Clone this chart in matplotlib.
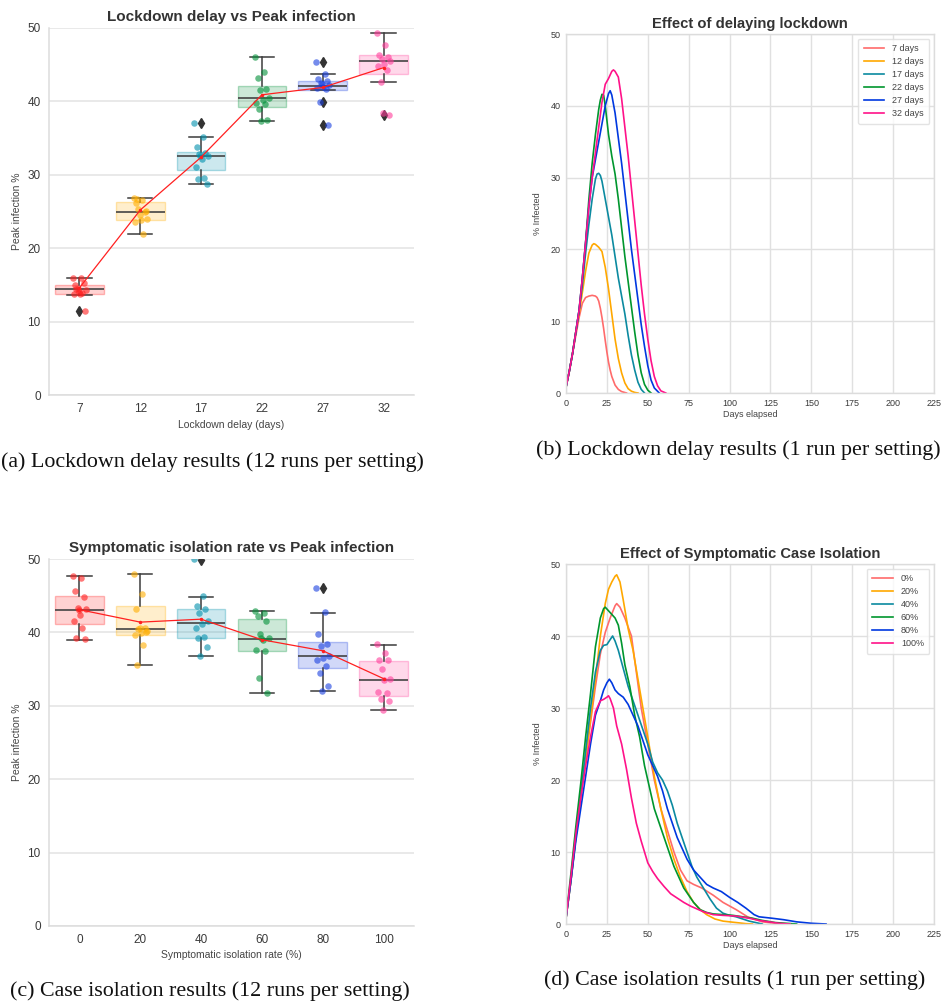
import matplotlib
matplotlib.use("Agg")
import matplotlib.pyplot as plt
import numpy as np

W, H = 943, 1007
plt.rcParams['font.family'] = ['Liberation Sans', 'DejaVu Sans']

BOX_COLORS = ['#ff1f1f', '#ffae00', '#0090ad', '#009038', '#1a40e0', '#ff3d9a']
LINE_COLORS = ['#ff6b6b', '#ffa800', '#0b8aa0', '#00962e', '#0038e0', '#ff1289']

# ---- (a) lockdown delay, 12 runs per setting ----
delay_labels = ['7', '12', '17', '22', '27', '32']
delay_points = [
    [16.0, 16.0, 15.0, 15.3, 14.5, 14.3, 13.8, 13.7, 13.9, 14.4, 11.5, 14.0],
    [26.9, 26.6, 26.2, 25.0, 25.3, 24.0, 23.8, 23.6, 22.0, 26.7, 25.1, 24.5],
    [37.1, 35.2, 33.8, 33.0, 32.8, 32.5, 32.2, 31.1, 29.6, 29.4, 28.8, 32.6],
    [46.0, 44.0, 43.2, 41.7, 41.5, 40.5, 40.2, 39.8, 39.6, 39.0, 37.4, 37.3],
    [45.3, 43.8, 43.0, 42.8, 42.5, 42.2, 41.9, 41.8, 41.7, 39.9, 36.8, 42.4],
    [49.3, 47.7, 46.3, 46.1, 45.8, 45.5, 45.1, 44.8, 44.3, 42.6, 38.2, 38.4],
]
delay_q1 = [13.8, 23.9, 30.6, 39.3, 41.6, 43.8]
delay_med = [14.5, 25.0, 32.6, 40.5, 42.1, 45.5]
delay_q3 = [15.0, 26.3, 33.1, 42.1, 42.8, 46.3]
delay_wlo = [13.6, 22.0, 28.8, 37.3, 41.6, 42.6]
delay_whi = [16.0, 26.9, 35.2, 46.0, 43.7, 49.3]
delay_fliers = [[11.4], [], [37.1], [], [45.3, 39.9, 36.8], [38.2]]
delay_mean = [14.6, 25.2, 32.4, 40.9, 41.9, 44.6]

# ---- (c) symptomatic isolation, 12 runs per setting ----
iso_labels = ['0', '20', '40', '60', '80', '100']
iso_points = [
    [47.7, 47.4, 45.7, 44.8, 43.3, 43.2, 42.4, 41.6, 40.6, 39.3, 39.1, 43.1],
    [48.0, 45.2, 43.2, 40.6, 40.5, 40.2, 39.9, 39.6, 38.3, 35.6, 40.0, 40.6],
    [50.0, 44.9, 43.6, 43.2, 42.6, 41.5, 41.2, 40.6, 39.4, 39.2, 38.0, 36.8],
    [42.9, 42.6, 42.3, 41.6, 39.8, 39.2, 39.0, 37.6, 37.5, 33.8, 31.8, 39.3],
    [46.1, 42.8, 39.8, 38.4, 38.2, 36.8, 36.5, 36.2, 35.4, 34.5, 32.7, 32.0],
    [38.4, 37.2, 36.3, 36.2, 35.0, 33.6, 33.5, 31.9, 31.7, 30.9, 30.7, 29.4],
]
iso_q1 = [41.2, 39.6, 39.3, 37.5, 35.1, 31.4]
iso_med = [43.0, 40.5, 41.3, 39.1, 36.8, 33.5]
iso_q3 = [45.0, 43.6, 43.2, 41.8, 38.7, 36.1]
iso_wlo = [39.0, 35.6, 36.8, 31.8, 32.0, 29.4]
iso_whi = [47.7, 48.0, 44.8, 42.9, 42.7, 38.3]
iso_fliers = [[], [], [49.8], [], [46.0], []]
iso_mean = [43.1, 41.4, 41.8, 39.0, 37.5, 33.7]

# ---- (b) delaying lockdown, one run each ----
lock_names = ['7 days', '12 days', '17 days', '22 days', '27 days', '32 days']
lock_days = [
    [0, 2, 4, 6, 8, 10, 12, 14, 16, 18, 19, 20, 21, 22, 23, 24, 25, 26, 27, 28, 30, 32, 34, 37],
    [0, 2, 4, 6, 8, 10, 12, 14, 16, 17, 18, 20, 22, 24, 26, 28, 30, 32, 34, 36, 38, 40, 42, 44],
    [0, 2, 4, 6, 8, 10, 12, 14, 16, 18, 19, 20, 21, 22, 24, 26, 28, 30, 32, 34, 36, 38, 40, 42, 44, 46, 48],
    [0, 2, 4, 6, 8, 10, 12, 14, 16, 18, 20, 21, 22, 23, 24, 26, 28, 30, 32, 34, 36, 38, 40, 42, 44, 46, 48, 50, 52],
    [0, 2, 4, 6, 8, 10, 12, 14, 16, 18, 20, 22, 24, 26, 27, 28, 30, 32, 34, 36, 38, 40, 42, 44, 46, 48, 50, 52, 54, 57],
    [0, 2, 4, 6, 8, 10, 12, 14, 16, 18, 20, 22, 24, 26, 28, 29, 30, 32, 34, 36, 38, 40, 42, 44, 46, 48, 50, 52, 54, 56, 58, 61],
]
lock_inf = [
    [0.8, 3, 5.5, 8, 10.5, 12.5, 13.3, 13.5, 13.6, 13.5, 13.3, 12.8, 11.8, 10.5, 9, 7.3, 5.7, 4.3, 3.2, 2.3, 1.1, 0.5, 0.2, 0],
    [0.8, 3, 5.5, 8.5, 11, 14, 17, 19.5, 20.6, 20.8, 20.7, 20.3, 19.7, 17.5, 14.5, 11, 7.5, 4.8, 2.8, 1.4, 0.6, 0.25, 0.08, 0],
    [0.8, 3, 5.5, 8.5, 11.5, 15, 19.5, 23.5, 27, 29.8, 30.5, 30.6, 30.3, 29.5, 27, 24.5, 22, 19, 16, 13.5, 11, 8, 5.3, 3.2, 1.5, 0.5, 0],
    [0.8, 3, 5.5, 8.5, 11.5, 16, 21, 27, 32, 36, 39.5, 40.8, 41.6, 41.5, 40, 36, 33, 30.5, 27, 23, 19, 15.5, 12, 8.5, 5.3, 2.8, 1.2, 0.4, 0],
    [0.8, 3, 5.5, 8.5, 11.5, 16, 21, 26, 30, 32.5, 35, 37.5, 40, 41.7, 42.1, 41.5, 39, 35.5, 32, 28, 24, 20, 16.5, 13, 9.5, 6.5, 3.8, 1.8, 0.7, 0],
    [0.8, 3, 5.5, 8.5, 11.5, 16, 21, 26, 30, 33.5, 37, 40.5, 43, 43.8, 44.8, 45, 44.8, 44, 41, 37, 33, 28.5, 24, 19.5, 15, 11, 7.5, 4.5, 2.3, 1, 0.3, 0],
]

# ---- (d) symptomatic case isolation, one run each ----
iso_names = ['0%', '20%', '40%', '60%', '80%', '100%']
isol_days = [
    [0, 3, 6, 9, 12, 15, 18, 21, 24, 27, 30, 31, 33, 36, 40, 43, 46, 50, 54, 58, 62, 66, 70, 74, 78, 83, 90, 96, 104, 111, 120, 128, 135],
    [0, 3, 6, 9, 12, 15, 18, 21, 24, 26, 28, 30, 31, 33, 35, 38, 41, 44, 47, 50, 54, 58, 62, 66, 70, 74, 78, 82, 86, 91, 96, 100, 104, 110, 114],
    [0, 3, 6, 9, 12, 15, 18, 21, 23, 25, 27, 28.5, 30, 32, 35, 38, 41, 44, 47, 50, 53, 56, 59, 62, 65, 68, 71, 74, 77, 80, 84, 88, 92, 96, 100, 104, 108, 112, 116, 120],
    [0, 3, 6, 9, 12, 15, 18, 21, 23, 24, 26, 28, 30, 32, 34, 36, 39, 42, 45, 48, 51, 54, 57, 60, 63, 66, 69, 72, 75, 78, 82, 86, 90, 96, 102, 108, 114, 120, 128, 141],
    [0, 3, 6, 9, 12, 15, 18, 21, 23, 25, 26.5, 28, 30, 32, 35, 38, 41, 44, 47, 50, 53, 56, 59, 62, 65, 68, 71, 74, 78, 82, 86, 90, 95, 100, 105, 110, 115, 118, 122, 126, 133, 141, 150, 159],
    [0, 3, 6, 9, 12, 15, 18, 21, 23, 25, 26, 27, 29, 31, 34, 37, 40, 43, 46, 48, 50, 53, 56, 60, 64, 68, 72, 76, 80, 84, 90, 96, 104, 112, 118, 124, 130, 137],
]
isol_inf = [
    [0.8, 6, 12, 17.5, 23, 28, 33, 37.5, 40.5, 42.5, 44.2, 44.5, 44, 42.5, 40, 35, 30, 25, 20, 16, 13, 10, 7.5, 6, 5.5, 5, 4, 3, 2, 1, 0.3, 0.1, 0],
    [0.8, 6, 12, 17.5, 23, 28.5, 34, 40, 44.5, 46.5, 47.5, 48.3, 48.5, 47.5, 45, 41, 38, 34, 30, 26, 20.5, 16, 12, 9, 6.5, 4.5, 3, 2, 1.3, 0.7, 0.4, 0.3, 0.2, 0.05, 0],
    [0.8, 6, 12, 18, 24, 30, 35, 38, 38.7, 38.8, 39.5, 40, 39.3, 38, 35.5, 33, 31, 29, 27, 25, 22.5, 21, 20, 18.5, 16.5, 14, 12, 10, 8, 6.5, 5, 3.5, 2.2, 1.5, 1.2, 1, 0.7, 0.4, 0.2, 0],
    [0.8, 7, 13.5, 19.5, 26, 32, 38.5, 42.5, 43.8, 44, 43.5, 43, 42.5, 41.5, 39, 36, 33, 29, 26, 22, 19, 16, 14, 12, 10, 8, 6.5, 5, 4, 3, 2, 1.6, 1.4, 1.3, 1.2, 1, 0.8, 0.5, 0.2, 0],
    [0.8, 6, 11.5, 16, 20.5, 25, 29, 31, 32.5, 33.5, 34, 33.5, 32.5, 32, 31.5, 30.5, 29, 27.5, 25.5, 23.5, 22, 20.5, 18.5, 16, 14, 12, 10.5, 9, 7.5, 6.5, 5.5, 5, 4.5, 3.7, 3, 2.2, 1.3, 1, 0.9, 0.8, 0.6, 0.3, 0.1, 0],
    [0.8, 6.5, 12.5, 17.5, 22, 26, 29.5, 31, 31.2, 31.5, 31.7, 31.3, 30, 27.5, 25, 21.5, 17.5, 14, 11.5, 10, 8.5, 7.3, 6.3, 5.2, 4.2, 3.6, 3, 2.5, 2.1, 1.7, 1.3, 1.2, 1.1, 0.8, 0.5, 0.3, 0.1, 0],
]


def px_axes(fig, x0, y0, x1, y1):
    # pixel box (left, top, right, bottom) -> figure fraction
    return fig.add_axes([x0 / W, 1 - y1 / H, (x1 - x0) / W, (y1 - y0) / H])


def box_panel(ax, labels, points, q1, med, q3, wlo, whi, fliers, means, title, xlabel):
    stats = []
    for i in range(len(labels)):
        stats.append(dict(q1=q1[i], med=med[i], q3=q3[i], whislo=wlo[i], whishi=whi[i], fliers=fliers[i]))
    pos = np.arange(len(labels))
    bp = ax.bxp(stats, positions=pos, widths=0.8, patch_artist=True, showfliers=True,
                capwidths=0.4,
                medianprops=dict(color='#444444', lw=1.2),
                whiskerprops=dict(color='#3c3c3c', lw=1.1),
                capprops=dict(color='#3c3c3c', lw=1.1),
                flierprops=dict(marker='d', markerfacecolor='#333333', markeredgecolor='#333333',
                                markersize=5))
    for patch, c in zip(bp['boxes'], BOX_COLORS):
        patch.set_facecolor(matplotlib.colors.to_rgba(c, 0.2))
        patch.set_edgecolor(matplotlib.colors.to_rgba(c, 0.3))
        patch.set_linewidth(1.0)
    for i, vals in enumerate(points):
        n = len(vals)
        jit = ((np.arange(n) * 7) % n / (n - 1) - 0.5) * 0.22
        ax.scatter(pos[i] + jit, vals, s=22, color=BOX_COLORS[i], alpha=0.6, lw=0, zorder=3)
    ax.plot(pos, means, color='#ff2020', lw=0.9, marker='.', ms=3, zorder=4)
    ax.set_xlim(-0.5, len(labels) - 0.5)
    ax.set_ylim(0, 50)
    ax.set_yticks(range(0, 51, 10))
    ax.set_xticks(pos)
    ax.set_xticklabels(labels)
    ax.grid(axis='y', color='#e3e3e3', lw=1.1)
    ax.set_axisbelow(True)
    for s in ['top', 'right']:
        ax.spines[s].set_visible(False)
    for s in ['left', 'bottom']:
        ax.spines[s].set_color('#dcdcdc')
        ax.spines[s].set_linewidth(1.1)
    ax.tick_params(length=0, labelsize=8.5, labelcolor='#3a3a3a', pad=6)
    ax.set_title(title, fontsize=11, fontweight='bold', color='#333333', pad=5)
    ax.set_ylabel('Peak infection %', fontsize=7.5, color='#444444', labelpad=4)
    ax.set_xlabel(xlabel, fontsize=7.5, color='#444444', labelpad=3)


def line_panel(ax, names, days, inf, title):
    for i in range(len(names)):
        ax.plot(days[i], inf[i], color=LINE_COLORS[i], lw=1.2, label=names[i])
    ax.set_xlim(0, 225)
    ax.set_ylim(0, 50)
    ax.set_xticks(range(0, 226, 25))
    ax.set_yticks(range(0, 51, 10))
    ax.grid(color='#e0e0e0', lw=1.0)
    ax.set_axisbelow(True)
    for s in ax.spines.values():
        s.set_color('#dcdcdc')
        s.set_linewidth(1.0)
    ax.tick_params(length=0, labelsize=6.5, labelcolor='#3a3a3a', pad=4)
    ax.set_title(title, fontsize=10.6, fontweight='bold', color='#333333', pad=4)
    ax.set_ylabel('% Infected', fontsize=6.5, color='#444444', labelpad=6)
    ax.set_xlabel('Days elapsed', fontsize=6.5, color='#444444', labelpad=2)
    leg = ax.legend(loc='upper right', fontsize=6.5, frameon=True, handlelength=2.3,
                    labelspacing=0.45, borderpad=0.6, handletextpad=0.9, fancybox=True)
    leg.get_frame().set_edgecolor('#dddddd')
    for t in leg.get_texts():
        t.set_color('#444444')


fig = plt.figure(figsize=(W / 100, H / 100), dpi=100)
fig.patch.set_facecolor('white')

ax_a = px_axes(fig, 49, 28, 414, 395)
box_panel(ax_a, delay_labels, delay_points, delay_q1, delay_med, delay_q3, delay_wlo, delay_whi,
          delay_fliers, delay_mean, 'Lockdown delay vs Peak infection', 'Lockdown delay (days)')

ax_c = px_axes(fig, 49, 559, 414, 926)
box_panel(ax_c, iso_labels, iso_points, iso_q1, iso_med, iso_q3, iso_wlo, iso_whi,
          iso_fliers, iso_mean, 'Symptomatic isolation rate vs Peak infection',
          'Symptomatic isolation rate (%)')

ax_b = px_axes(fig, 566, 34, 934, 393)
line_panel(ax_b, lock_names, lock_days, lock_inf, 'Effect of delaying lockdown')

ax_d = px_axes(fig, 566, 564, 934, 924)
line_panel(ax_d, iso_names, isol_days, isol_inf, 'Effect of Symptomatic Case Isolation')

cap_font = dict(family=['Liberation Serif', 'DejaVu Serif'], fontsize=15.8, color='#111111', va='center')
fig.text(1 / W, 1 - 462 / H, '(a) Lockdown delay results (12 runs per setting)', ha='left', **cap_font)
fig.text(941 / W, 1 - 450 / H, '(b) Lockdown delay results (1 run per setting)', ha='right', **cap_font)
fig.text(10 / W, 1 - 991 / H, '(c) Case isolation results (12 runs per setting)', ha='left', **cap_font)
fig.text(544 / W, 1 - 980 / H, '(d) Case isolation results (1 run per setting)', ha='left', **cap_font)

fig.savefig('out.png', dpi=100, facecolor='white')
plt.close(fig)
